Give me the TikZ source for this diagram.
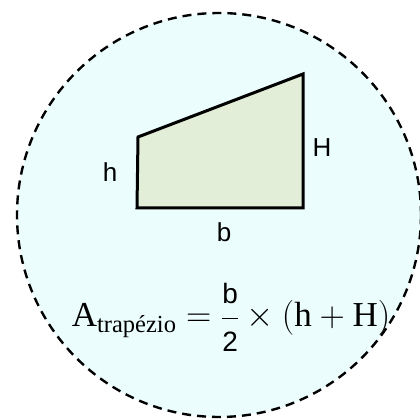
\RequirePackage{fix-cm}
\documentclass[tikz,border=0pt]{standalone}
\usepackage{amsmath}
\usepackage{fontspec}
\setmainfont{Liberation Serif}
\setsansfont{Liberation Sans}
\definecolor{bgcyan}{HTML}{EBFDFD}
\definecolor{trapgreen}{HTML}{E2EED8}
\tikzset{
  lbl/.style={font=\sffamily\fontsize{26}{30}\selectfont},
}
\newcommand{\fracpart}[1]{\text{\sffamily\fontsize{28}{30}\selectfont #1}}
\begin{document}
\begin{tikzpicture}[x=1pt,y=1pt]
\useasboundingbox (0,0) rectangle (420,420);
\fill[bgcyan] (219,205) circle (202);
\draw[line width=2.4pt,dash pattern=on 9pt off 6pt] (219,205) circle (202);
\draw[fill=trapgreen,line width=3pt] (137,212) -- (303,212) -- (303,346) -- (138,283) -- cycle;
\node[lbl] (hlab) at (110,248) {h};
\node[lbl] (Hlab) at (322,272) {H};
\node[lbl] (blab) at (224,188) {b};
\node[anchor=base,font=\fontsize{35}{40}\selectfont] (area) at (231,93)
  {$\text{A}_{\text{trapézio}} = \dfrac{\fracpart{b}}{\fracpart{2}} \times (\text{h} + \text{H})$};
\end{tikzpicture}
\end{document}
